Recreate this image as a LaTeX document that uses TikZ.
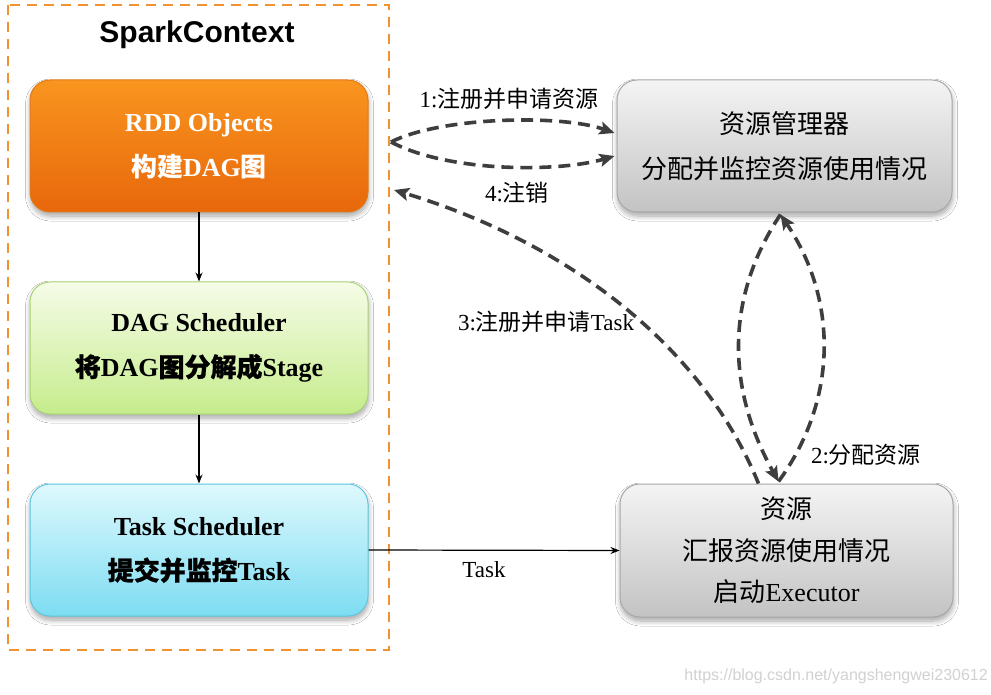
\documentclass[tikz,border=0pt]{standalone}
\usepackage{fontspec}
\setmainfont{Liberation Serif}
\newfontfamily\hel{Liberation Sans}
\newfontfamily\cjk{Noto Sans CJK SC}
\newfontfamily\cjkb[FakeBold=0.8]{Noto Sans CJK SC}
\usetikzlibrary{arrows.meta,shadows.blur,calc}
\newcommand\zh[1]{{\cjk #1}}
\newcommand\zhb[1]{{\cjkb #1}}
\definecolor{ctxorange}{HTML}{F0922E}
\definecolor{rddtop}{HTML}{F9951F}
\definecolor{rddbot}{HTML}{E8670B}
\definecolor{rddline}{HTML}{E07A1A}
\definecolor{dagtop}{HTML}{F6FCE8}
\definecolor{dagbot}{HTML}{C6EC8C}
\definecolor{dagline}{HTML}{A9D473}
\definecolor{tasktop}{HTML}{DEF9FD}
\definecolor{taskbot}{HTML}{7DDCF2}
\definecolor{taskline}{HTML}{5EC6DF}
\definecolor{graytop}{HTML}{F4F4F4}
\definecolor{graybot}{HTML}{C3C3C3}
\definecolor{grayline}{HTML}{A8A8A8}
\definecolor{dashgray}{HTML}{3E3E3E}
\tikzset{
  box/.style={rounded corners=20pt, minimum width=338pt, minimum height=132pt,
    align=center, line width=1pt, inner sep=0pt,
    blur shadow={shadow blur steps=8, shadow xshift=0.5pt, shadow yshift=-4pt,
      shadow blur radius=5pt, shadow opacity=35}},
  boldtxt/.style={font=\fontsize{26}{45}\selectfont\bfseries},
  plaintxt/.style={font=\fontsize{26}{45}\selectfont},
  flow/.style={line width=1.2pt, -{Stealth[length=9pt,width=7pt]}},
  dflow/.style={line width=3.6pt, color=dashgray, dash pattern=on 12pt off 7pt,
    -{Stealth[length=15pt,width=13pt,inset=3pt]}},
  lbl/.style={font=\fontsize{23}{26}\selectfont, text=black, inner sep=1pt}
}
\begin{document}
\begin{tikzpicture}[x=1pt,y=-1pt]
\fill[white] (0,0) rectangle (991,695);
\useasboundingbox (0,0) rectangle (991,695);

% SparkContext frame
\draw[ctxorange, line width=2.5pt, dash pattern=on 10pt off 7pt] (8,5) rectangle (389,650);
\node[font=\hel\fontsize{30}{34}\selectfont\bfseries] (sc) at (197,35) {SparkContext};

% left column
\node[box, boldtxt, text=white, draw=rddline, top color=rddtop, bottom color=rddbot]
  (rdd) at (199,146) {RDD Objects\\\zh{构建}DAG\zh{图}};
\node[box, boldtxt, text=black, draw=dagline, top color=dagtop, bottom color=dagbot]
  (dag) at (199,348) {DAG Scheduler\\\zhb{将}DAG\zhb{图分解成}Stage};
\node[box, boldtxt, text=black, draw=taskline, top color=tasktop, bottom color=taskbot]
  (task) at (199,550) {Task Scheduler\\\zhb{提交并监控}Task};

% right column
\node[box, plaintxt, minimum width=335pt, text=black, draw=grayline, top color=graytop, bottom color=graybot]
  (rm) at (784.5,146) {\zh{资源管理器}\\\zh{分配并监控资源使用情况}};
\node[box, font=\fontsize{26}{41.5}\selectfont, minimum width=333pt, minimum height=133pt,
  text=black, draw=grayline, top color=graytop, bottom color=graybot]
  (worker) at (786.5,550.5) {\zh{资源}\\\zh{汇报资源使用情况}\\\zh{启动}Executor};

% solid arrows
\draw[flow] (rdd.south) -- (dag.north);
\draw[flow] (dag.south) -- (task.north);
\draw[flow] (task.east) -- node[lbl, pos=0.46, below=10pt] (tasklbl) {Task} (worker.west);

% free ends
\coordinate (s1) at (391,142);
\coordinate (e4) at (394,190);

% 1: register and request resources
\draw[dflow] (s1) .. controls (440,117) and (560,114) .. ($(rm.west)+(-2,-13)$);
\draw[dflow] (s1) .. controls (450,173) and (560,172) .. ($(rm.west)+(-2,10)$);
\node[lbl] (l1) at (509,99) {1:\zh{注册并申请资源}};

% 2: allocate resources (lens)
\draw[dflow] ($(rm.south)+(-4,2)$) .. controls (730,290) and (722,380) .. ($(worker.north)+(-8,-2)$);
\draw[dflow] ($(worker.north)+(-8,-2)$) .. controls (838,400) and (838,300) .. ($(rm.south)+(-4,2)$);
\node[lbl] (l2) at (866,455) {2:\zh{分配资源}};

% 3/4: register task / unregister
\draw[dflow] ($(worker.north)+(-28,0)$) .. controls (700,340) and (560,240) .. (e4);
\node[lbl] (l4) at (517,193) {4:\zh{注销}};
\node[lbl] (l3) at (546,322) {3:\zh{注册并申请}Task};

% watermark
\node[anchor=east, font=\hel\fontsize{16}{18}\selectfont, text=black!18, inner sep=0pt] (wm) at (988,676) {https://blog.csdn.net/yangshengwei230612};
\end{tikzpicture}
\end{document}
